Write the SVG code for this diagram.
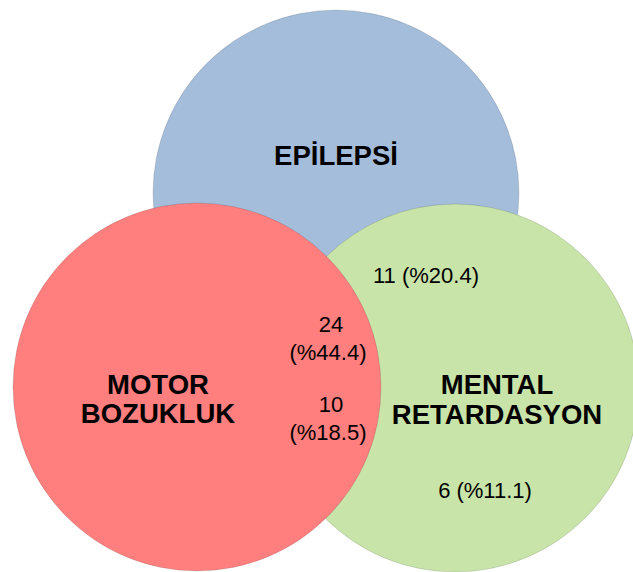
<svg xmlns="http://www.w3.org/2000/svg" width="633" height="572" viewBox="0 0 633 572">
<style>
.c{stroke:#000;stroke-opacity:0.12;stroke-width:1}
.lbl{font-family:"Liberation Sans",Arial,sans-serif;font-weight:bold;font-size:27.5px;fill:#000;text-anchor:middle}
.num{font-family:"Liberation Sans",Arial,sans-serif;font-size:22px;fill:#000;text-anchor:middle}
</style>
<rect width="633" height="572" fill="#fff"/>
<g id="epilepsi">
<circle class="c" cx="336" cy="193" r="183" fill="#A4BDDB"/>
<text class="lbl" x="336" y="165">EPİLEPSİ</text>
</g>
<g id="mental">
<circle class="c" cx="455" cy="388" r="184" fill="#C8E4A8"/>
<text class="lbl" x="497" y="394">MENTAL</text>
<text class="lbl" x="497" y="424">RETARDASYON</text>
</g>
<g id="motor">
<circle class="c" cx="197" cy="387" r="184" fill="#FF7F7F"/>
<text class="lbl" x="158" y="394">MOTOR</text>
<text class="lbl" x="158" y="423">BOZUKLUK</text>
</g>
<g id="counts">
<text class="num" x="426" y="283">11 (%20.4)</text>
<text class="num" x="331" y="332">24</text>
<text class="num" x="328" y="360">(%44.4)</text>
<text class="num" x="331" y="412">10</text>
<text class="num" x="328" y="440">(%18.5)</text>
<text class="num" x="485" y="498">6 (%11.1)</text>
</g>
<g id="connectors"/>
</svg>
